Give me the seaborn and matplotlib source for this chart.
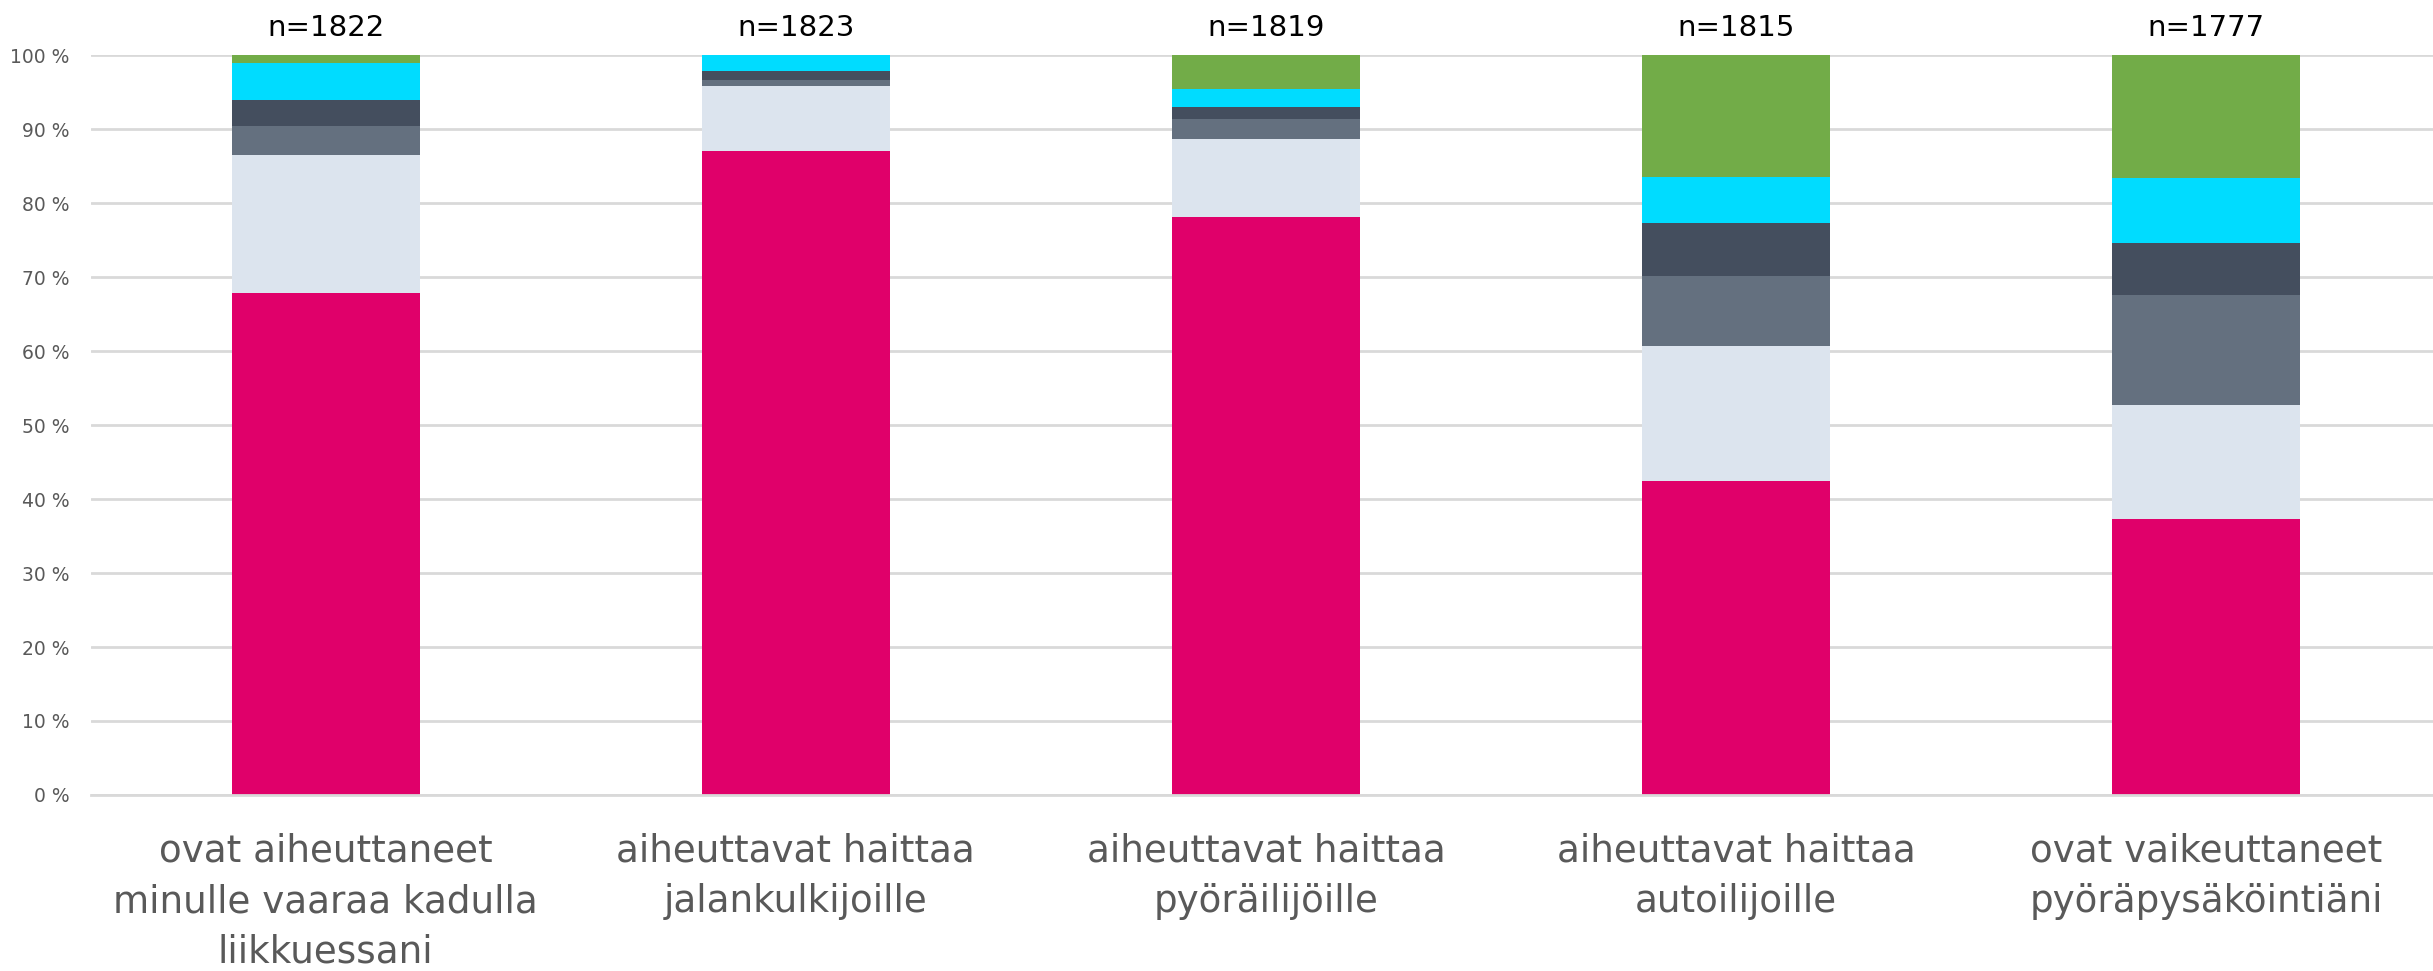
import numpy as np
import pandas as pd
import matplotlib
matplotlib.use("Agg")
import matplotlib.pyplot as plt
import seaborn as sns

# categories (x axis)
categories = [
    "ovat aiheuttaneet\nminulle vaaraa kadulla\nliikkuessani",
    "aiheuttavat haittaa\njalankulkijoille",
    "aiheuttavat haittaa\npyöräilijöille",
    "aiheuttavat haittaa\nautoilijoille",
    "ovat vaikeuttaneet\npyöräpysäköintiäni",
]
n_labels = ["n=1822", "n=1823", "n=1819", "n=1815", "n=1777"]

# segment shares in %, bottom to top
taysin_samaa = [67.9, 87.1, 78.2, 42.4, 37.3]
jokseenkin_samaa = [18.6, 8.8, 10.5, 18.3, 15.4]
ei_samaa_eika_eri = [3.9, 0.7, 2.7, 9.4, 14.9]
jokseenkin_eri = [3.6, 1.3, 1.6, 7.2, 7.0]
taysin_eri = [5.0, 2.1, 2.5, 6.2, 8.8]
en_osaa_sanoa = [1.0, 0.0, 4.5, 16.5, 16.6]

segments = [taysin_samaa, jokseenkin_samaa, ei_samaa_eika_eri,
            jokseenkin_eri, taysin_eri, en_osaa_sanoa]
colors = ["#E0006A", "#DCE4EE", "#64707F", "#444E5E", "#00DCFF", "#72AC48"]

yticks = list(range(0, 101, 10))


def main():
    sns.set_style("white")
    plt.rcParams["font.family"] = ["DejaVu Sans"]

    fig = plt.figure(figsize=(24.33, 9.71), dpi=100)
    ax = fig.add_axes([0.0372, 0.1813, 0.9663, 0.7617])

    cum = np.cumsum(np.array(segments), axis=0)
    # draw cumulative totals from the top layer down so lower ones cover them
    for level in range(len(segments) - 1, -1, -1):
        df = pd.DataFrame({"kategoria": categories, "osuus": cum[level]})
        sns.barplot(data=df, x="kategoria", y="osuus", color=colors[level],
                    saturation=1, width=0.4, ax=ax, linewidth=0)

    ax.set_ylim(0, 100)
    ax.set_xlim(-0.5, 4.5)
    ax.set_yticks(yticks)
    ax.set_yticklabels([f"{t} %" for t in yticks], fontsize=13.5, color="#595959")
    ax.set_xlabel("")
    ax.set_ylabel("")
    ax.set_axisbelow(True)
    ax.yaxis.grid(True, color="#D9D9D9", linewidth=2)
    ax.tick_params(axis="y", length=0, pad=15)
    ax.tick_params(axis="x", length=0, pad=27)
    for lbl in ax.get_xticklabels():
        lbl.set_fontsize(26.8)
        lbl.set_color("#595959")
        lbl.set_linespacing(1.47)
    for side in ["top", "right", "left"]:
        ax.spines[side].set_visible(False)
    ax.spines["bottom"].set_color("#D9D9D9")
    ax.spines["bottom"].set_linewidth(2)

    for i, lab in enumerate(n_labels):
        ax.annotate(lab, xy=(i, 100), xytext=(0, 20), textcoords="offset points",
                    ha="center", va="center", fontsize=21, color="black")

    fig.savefig("out.png", dpi=100)
    plt.close()


if __name__ == "__main__":
    main()
